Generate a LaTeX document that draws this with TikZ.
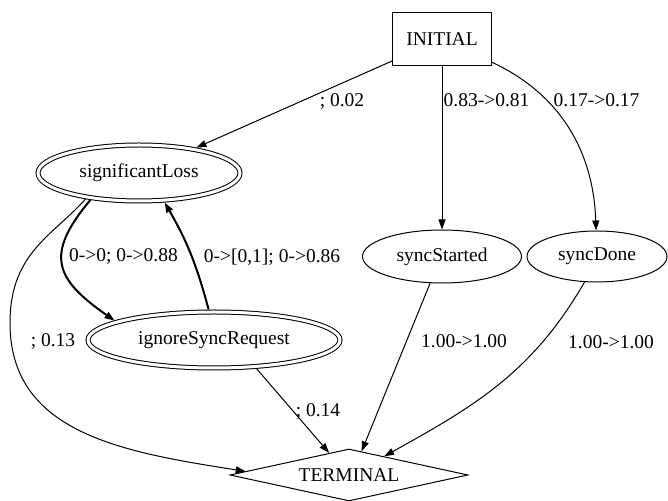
\documentclass[tikz,border=0pt]{standalone}
\usepackage{fontspec}
\setmainfont{Liberation Serif}
\usetikzlibrary{shapes.geometric,arrows.meta}

\tikzset{
  state/.style={ellipse, draw, line width=1pt, inner sep=0pt},
  final/.style={state, double, double distance=3pt, outer sep=2.5pt},
  trans/.style={line width=1pt, -{Triangle[length=10pt,width=7pt]}},
  strong/.style={trans, line width=2pt},
  lab/.style={inner sep=0pt}
}

\begin{document}
\begin{tikzpicture}[x=1pt,y=1pt,font=\fontsize{19.5}{23}\selectfont]
\useasboundingbox (0,0) rectangle (668,500);
% states
\node[draw, line width=1pt, minimum width=99pt, minimum height=53pt] (initial) at (442,461) {INITIAL};
\node[final, minimum width=202pt, minimum height=56pt] (loss) at (139,327) {significantLoss};
\node[final, minimum width=252pt, minimum height=56pt] (ignore) at (214,160) {ignoreSyncRequest};
\node[state, minimum width=159pt, minimum height=53pt] (started) at (442,243.5) {syncStarted};
\node[state, minimum width=140pt, minimum height=51pt] (done) at (597,243.5) {syncDone};
\node[diamond, draw, line width=1pt, aspect=4.6, inner sep=0pt,
      minimum width=238pt, minimum height=52pt] (terminal) at (349,25) {TERMINAL};
% transitions
\draw[trans] (initial) -- (loss);
\draw[trans] (initial) -- (started);
\draw[trans] (initial) to[out=-25, in=92] (done);
\draw[strong] (loss.209) to[out=-130, in=145, looseness=1.5] (ignore.169);
\draw[strong] (ignore.100) to[out=105, in=-60] (loss.-49);
\draw[trans] (loss.206) .. controls (52.5,264) and (10,247) .. (10,177)
  .. controls (10,67) and (122,48) .. (terminal.178);
\draw[trans] (ignore.-34) -- (terminal.132);
\draw[trans] (started.-114) -- (terminal.62);
\draw[trans] (done.-116) to[out=-120, in=29] (terminal.28);
% labels
\node[lab] (l1) at (342,398) {; 0.02};
\node[lab] (l2) at (486.5,400) {0.83->0.81};
\node[lab] (l3) at (596.5,400) {0.17->0.17};
\node[lab] (l4) at (123.5,243) {0->0; 0->0.88};
\node[lab] (l5) at (272,243) {0->[0,1]; 0->0.86};
\node[lab] (l6) at (53,158) {; 0.13};
\node[lab] (l7) at (318,88) {; 0.14};
\node[lab] (l8) at (464,159) {1.00->1.00};
\node[lab] (l9) at (611,158) {1.00->1.00};
\end{tikzpicture}
\end{document}
